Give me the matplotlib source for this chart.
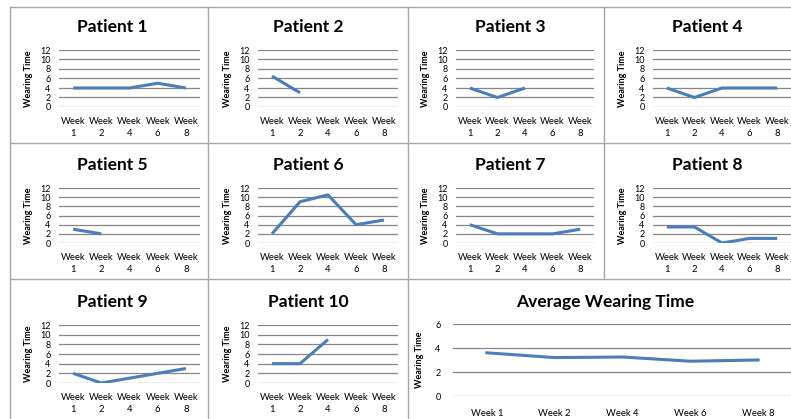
import numpy as np
import matplotlib
matplotlib.use("Agg")
import matplotlib.pyplot as plt
from matplotlib.lines import Line2D

W, H = 791, 419
nan = np.nan

weeks = ["Week 1", "Week 2", "Week 4", "Week 6", "Week 8"]
p1 = [4, 4, 4, 5, 4]
p2 = [6.5, 3, nan, nan, nan]
p3 = [4, 2, 4, nan, nan]
p4 = [4, 2, 4, 4, 4]
p5 = [3, 2, nan, nan, nan]
p6 = [2, 9, 10.5, 4, 5]
p7 = [4, 2, 2, 2, 3]
p8 = [3.5, 3.5, 0, 1, 1]
p9 = [2, 0, 1, 2, 3]
p10 = [4, 4, 9, nan, nan]
avg = [3.6, 3.2, 3.25, 2.9, 3.0]

patients = [p1, p2, p3, p4, p5, p6, p7, p8, p9, p10]
titles = ["Patient %d" % (i + 1) for i in range(10)]

LINE = "#4A7EBB"
GRID = "#868686"
BORDER = "#A6A6A6"
FONT = "Lato"

fig = plt.figure(figsize=(W / 100, H / 100), dpi=100)
fig.patch.set_facecolor("white")


def px_axes(l, t, r, b):
    return fig.add_axes([l / W, 1 - b / H, (r - l) / W, (b - t) / H])


def fx(x):
    return x / W


def fy(y):
    return 1 - y / H


# panel borders
for x in [10, 208, 408]:
    fig.add_artist(Line2D([fx(x), fx(x)], [fy(7), fy(419)], color=BORDER, lw=1))
fig.add_artist(Line2D([fx(604), fx(604)], [fy(7), fy(279)], color=BORDER, lw=1))
for y in [7, 143, 279]:
    fig.add_artist(Line2D([fx(10), fx(791)], [fy(y), fy(y)], color=BORDER, lw=1))

# small panel layout: (plot left, plot right, panel center x)
cols = [(59, 200, 112), (258, 398, 308), (456, 594, 510), (653, 791, 707)]
rows = [(50, 107, 27), (188, 243, 165), (325, 383, 302)]

for i, (vals, title) in enumerate(zip(patients, titles)):
    r, c = divmod(i, 4)
    l, rr, cx = cols[c]
    t, b, ty = rows[r]
    ax = px_axes(l, t, rr, b)
    x = np.arange(len(weeks))
    ax.plot(x, vals, color=LINE, lw=2.2, solid_capstyle="butt")
    ax.set_xlim(-0.5, len(weeks) - 0.5)
    ax.set_ylim(0, 12)
    ax.set_yticks(np.arange(0, 13, 2))
    ax.set_yticklabels([str(v) for v in range(0, 13, 2)], fontsize=6.5, family=FONT)
    ax.set_xticks(x)
    ax.set_xticklabels([w.replace(" ", "\n") for w in weeks], fontsize=6.8,
                       family=FONT, linespacing=1.45)
    ax.tick_params(axis="y", length=0, pad=6)
    ax.tick_params(axis="x", length=0, pad=7)
    for s in ax.spines.values():
        s.set_visible(False)
    for v in range(0, 13, 2):
        ax.axhline(v, color=GRID, lw=0.9, zorder=0)
    ax.set_ylabel("Wearing Time", fontsize=6.5, fontweight="bold", family=FONT, labelpad=5)
    ax.patch.set_alpha(0)
    fig.text(fx(cx), fy(ty), title, ha="center", va="center", fontsize=12.5,
             fontweight="bold", family=FONT)

# average panel
ax = px_axes(453, 324, 792, 396)
x = np.arange(len(weeks))
ax.plot(x, avg, color=LINE, lw=2.2)
ax.set_xlim(-0.5, len(weeks) - 0.5)
ax.set_ylim(0, 6)
ax.set_yticks([0, 2, 4, 6])
ax.set_yticklabels(["0", "2", "4", "6"], fontsize=6.5, family=FONT)
ax.set_xticks(x)
ax.set_xticklabels(weeks, fontsize=6.8, family=FONT)
ax.tick_params(axis="y", length=0, pad=9)
ax.tick_params(axis="x", length=0, pad=9)
for s in ax.spines.values():
    s.set_visible(False)
for v in [0, 2, 4, 6]:
    ax.axhline(v, color=GRID, lw=0.9, zorder=0)
ax.set_ylabel("Wearing Time", fontsize=6.5, fontweight="bold", family=FONT, labelpad=8)
fig.text(fx(605), fy(302), "Average Wearing Time", ha="center", va="center",
         fontsize=12.5, fontweight="bold", family=FONT)

fig.savefig("out.png", dpi=100, facecolor="white")
